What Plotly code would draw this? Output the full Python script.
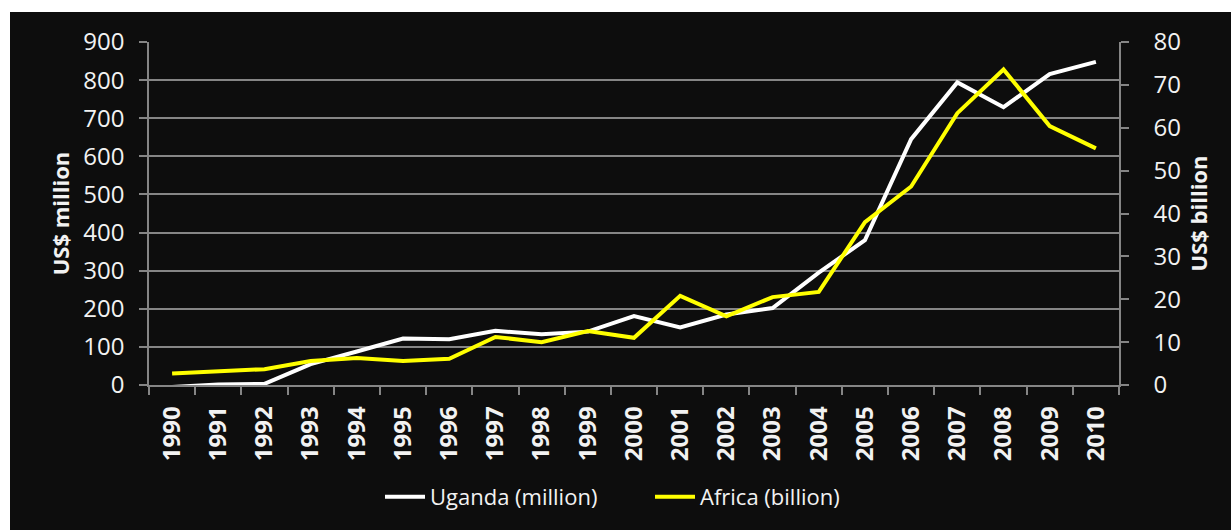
import plotly.graph_objects as go

# FDI inflows, 1990-2010
years = [str(y) for y in range(1990, 2011)]
uganda_million = [-5, 1, 3, 55, 88, 122, 120, 142, 133, 140, 181, 151, 185, 202,
                  295, 380, 645, 794, 729, 816, 848]
africa_billion = [2.7, 3.3, 3.7, 5.6, 6.3, 5.6, 6.1, 11.2, 10.0, 12.6, 11.0, 20.8,
                  16.0, 20.5, 21.7, 38.0, 46.3, 63.4, 73.6, 60.4, 55.2]

left_ticks = list(range(0, 1000, 100))
right_ticks = list(range(0, 90, 10))

BG = "#0d0d0d"
GRID = "#858585"
TXT = "#f2f2f2"
FONT = "Open Sans"

W, H = 1231, 530
ML, MR, MT, MB = 149, 112, 42, 145
PW, PH = W - ML - MR, H - MT - MB

fig = go.Figure()
fig.add_trace(go.Scatter(
    x=years, y=uganda_million, name="Uganda (million)", mode="lines",
    line=dict(color="#ffffff", width=4), yaxis="y"))
fig.add_trace(go.Scatter(
    x=years, y=africa_billion, name="Africa (billion)", mode="lines",
    line=dict(color="#ffff00", width=4), yaxis="y2"))

# white page margin around the dark chart panel
shapes = [
    dict(type="rect", xref="paper", yref="paper", layer="above",
         x0=-ML / PW - 0.01, x1=1 + MR / PW + 0.01,
         y0=1 + (MT - 12) / PH, y1=1 + MT / PH + 0.01,
         fillcolor="#ffffff", line=dict(width=0)),
    dict(type="rect", xref="paper", yref="paper", layer="above",
         x0=-ML / PW - 0.01, x1=-(ML - 10) / PW,
         y0=-MB / PH - 0.01, y1=1 + MT / PH + 0.01,
         fillcolor="#ffffff", line=dict(width=0)),
]

fig.update_layout(
    width=W, height=H,
    margin=dict(l=ML, r=MR, t=MT, b=MB),
    paper_bgcolor=BG, plot_bgcolor=BG,
    font=dict(family=FONT, color=TXT),
    shapes=shapes,
    showlegend=True,
    legend=dict(orientation="h", x=(380 - ML) / PW, xanchor="left",
                y=(385 - 497) / PH, yanchor="middle",
                font=dict(size=22, color=TXT, family=FONT),
                entrywidth=215, entrywidthmode="pixels",
                bgcolor="rgba(0,0,0,0)", itemwidth=40, tracegroupgap=0),
    xaxis=dict(
        type="category", categoryorder="array", categoryarray=years,
        range=[-0.5, len(years) - 0.5],
        tickvals=years, ticktext=years,
        tickangle=-90, tickson="boundaries",
        ticks="outside", ticklen=8, tickwidth=1.5, tickcolor=GRID,
        showline=True, linecolor=GRID, linewidth=1.5,
        showgrid=False, zeroline=False,
        tickfont=dict(size=24, color=TXT, family=FONT, weight="bold"),
        ticklabelstandoff=10,
    ),
    yaxis=dict(
        range=[0, 900], tickvals=left_ticks,
        ticks="outside", ticklen=8, tickwidth=1.5, tickcolor=GRID,
        showline=True, linecolor=GRID, linewidth=1.5,
        showgrid=True, gridcolor=GRID, gridwidth=1.5, zeroline=False,
        tickfont=dict(size=24, color=TXT, family=FONT),
        ticklabelstandoff=10,
        title=dict(text="US$ million", standoff=8,
                   font=dict(size=22, color=TXT, family=FONT, weight="bold")),
    ),
    yaxis2=dict(
        range=[0, 80], tickvals=right_ticks, overlaying="y", side="right",
        ticks="outside", ticklen=8, tickwidth=1.5, tickcolor=GRID,
        showline=True, linecolor=GRID, linewidth=1.5,
        showgrid=False, zeroline=False,
        tickfont=dict(size=24, color=TXT, family=FONT),
        ticklabelstandoff=20,
        title=dict(text="US$ billion", standoff=12,
                   font=dict(size=22, color=TXT, family=FONT, weight="bold")),
    ),
)

fig.write_html("out.html")
